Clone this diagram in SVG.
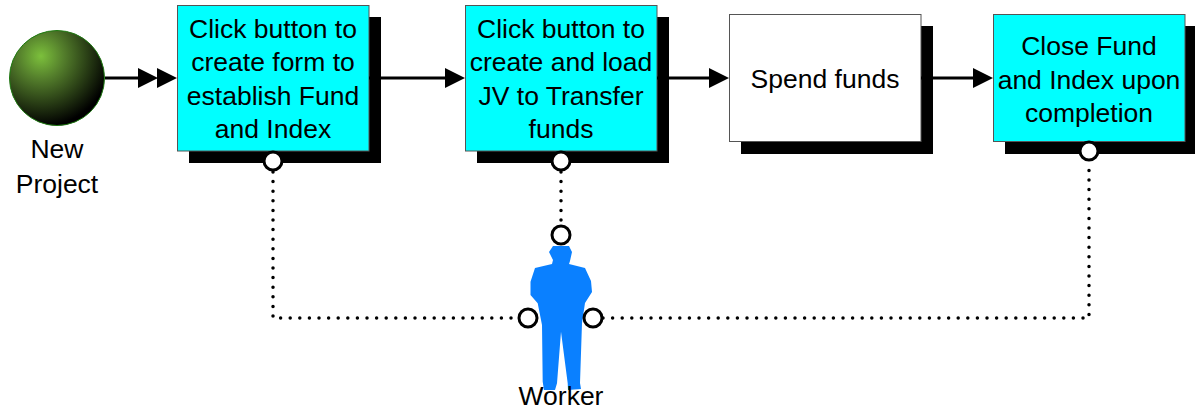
<svg xmlns="http://www.w3.org/2000/svg" width="1195" height="411" viewBox="0 0 1195 411">
<style>
text{font-family:"Liberation Sans",Arial,sans-serif;font-size:26.500px;fill:#000;text-anchor:middle}
.shadow{fill:#000}
.box{stroke:#555;stroke-width:1}
.cyan{fill:#00ffff}
.white{fill:#fff}
.flow{fill:none;stroke:#000;stroke-width:3}
.dots{fill:none;stroke:#000;stroke-width:3.5;stroke-linecap:round;stroke-dasharray:0 9.6}
.port{fill:#fff;stroke:#000;stroke-width:3}
.head{fill:#000}
</style>
<defs>
<radialGradient id="ball" cx="0.33" cy="0.27" r="0.78">
<stop offset="0" stop-color="#7cc03c"/>
<stop offset="0.3" stop-color="#55802c"/>
<stop offset="0.95" stop-color="#000"/>
</radialGradient>
</defs>
<g id="new-project">
<circle cx="57" cy="78" r="47.5" fill="url(#ball)" stroke="#1d7a10" stroke-width="1"/>
<text x="57" y="158">New</text>
<text x="57" y="192.500">Project</text>
</g>
<g id="create-form">
<rect class="shadow" x="189" y="17" width="192" height="146"/>
<rect class="box cyan" x="177.500" y="5.500" width="191.500" height="145.500"/>
<text x="273" y="37.500">Click button to</text>
<text x="273" y="71">create form to</text>
<text x="273" y="104.500">establish Fund</text>
<text x="273" y="138">and Index</text>
</g>
<g id="create-jv">
<rect class="shadow" x="477" y="17" width="192" height="146"/>
<rect class="box cyan" x="465.500" y="5.500" width="191.500" height="145.500"/>
<text x="561" y="37.500">Click button to</text>
<text x="561" y="71">create and load</text>
<text x="561" y="104.500">JV to Transfer</text>
<text x="561" y="138">funds</text>
</g>
<g id="spend-funds">
<rect class="shadow" x="741" y="26" width="192" height="128"/>
<rect class="box white" x="729.500" y="14.500" width="191.500" height="127"/>
<text x="825" y="88">Spend funds</text>
</g>
<g id="close-fund">
<rect class="shadow" x="1005" y="26" width="192" height="128"/>
<rect class="box cyan" x="993.500" y="14.500" width="191.500" height="127"/>
<text x="1089" y="55">Close Fund</text>
<text x="1089" y="88.500">and Index upon</text>
<text x="1089" y="121.500">completion</text>
</g>
<g id="worker">
<path fill="#0a80ff" d="M553 246L569 246L572 252L570 261L569 264L585 268L591 281L592 292L585 303L582 323L580 383L581 389L568 390L567.700 383.300L561 331.700L557 383.300L555 390L544 390L542.700 381.700L542 325L537.700 303.300L530.500 295L530.500 281.700L535 268L552 264L553 260L549 252Z"/>
<text x="561" y="405">Worker</text>
</g>
<g id="connectors">
<path class="flow" d="M105 78H140M369 78H449M657 78H712M921 78H976"/>
<path class="head" d="M138 68L158 78L138 88ZM157 68L177 78L157 88ZM445 68L465 78L445 88ZM709 68L729 78L709 88ZM973 68L993 78L973 88Z"/>
<path class="dots" d="M273 172V318H518M561 172V226M603 318H1089V162"/>
<circle class="port" cx="273" cy="161" r="9"/>
<circle class="port" cx="561" cy="161" r="9"/>
<circle class="port" cx="1089" cy="151" r="9"/>
<circle class="port" cx="561" cy="235" r="9"/>
<circle class="port" cx="528" cy="318" r="9"/>
<circle class="port" cx="593" cy="318" r="9"/>
</g>
</svg>
